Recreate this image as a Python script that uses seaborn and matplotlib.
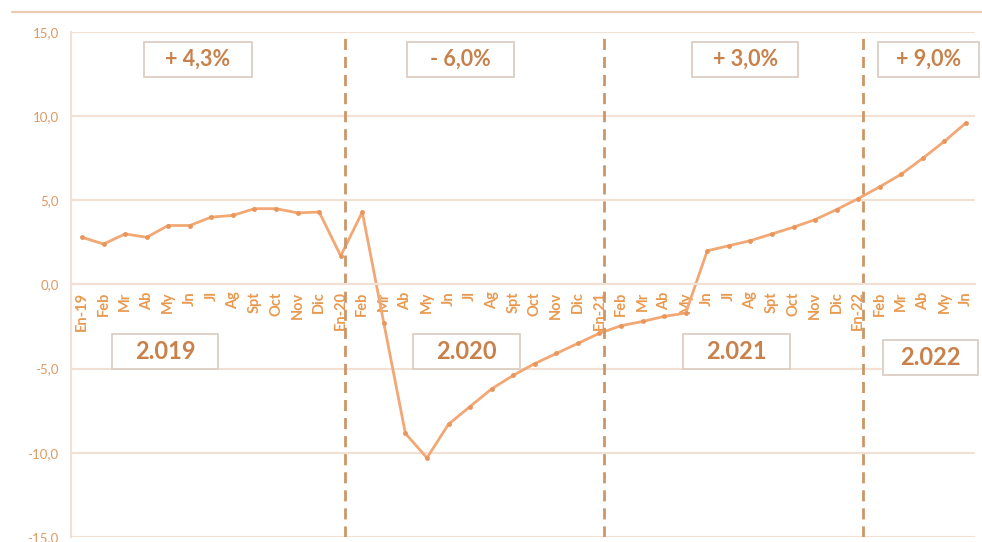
import matplotlib
matplotlib.use("Agg")
import matplotlib.pyplot as plt
import matplotlib.ticker as mticker
from matplotlib.lines import Line2D
from matplotlib.patches import Rectangle
import numpy as np
import pandas as pd
import seaborn as sns

# month labels on the x axis, Jan 2019 .. Jun 2022
month_labels = ['En-19', 'Feb', 'Mr', 'Ab', 'My', 'Jn', 'Jl', 'Ag', 'Spt', 'Oct', 'Nov', 'Dic',
                'En-20', 'Feb', 'Mr', 'Ab', 'My', 'Jn', 'Jl', 'Ag', 'Spt', 'Oct', 'Nov', 'Dic',
                'En-21', 'Feb', 'Mr', 'Ab', 'My', 'Jn', 'Jl', 'Ag', 'Spt', 'Oct', 'Nov', 'Dic',
                'En-22', 'Feb', 'Mr', 'Ab', 'My', 'Jn']

# monthly values
values = [2.8, 2.4, 3.0, 2.8, 3.5, 3.5, 4.0, 4.1, 4.5, 4.5, 4.25, 4.3,
          1.7, 4.3, -2.3, -8.85, -10.3, -8.3, -7.25, -6.2, -5.4, -4.7, -4.1, -3.5,
          -2.9, -2.45, -2.2, -1.9, -1.7, 2.0, 2.3, 2.6, 3.0, 3.4, 3.85, 4.45,
          5.1, 5.8, 6.55, 7.5, 8.5, 9.6]

# year separators (index of January) and annotations
year_starts = [12, 24, 36]
growth_text = ['+ 4,3%', '- 6,0%', '+ 3,0%', '+ 9,0%']
growth_x = [5.38, 17.56, 30.77, 39.26]
growth_w = [5.0, 4.97, 4.92, 4.64]
year_text = ['2.019', '2.020', '2.021', '2.022']
year_x = [3.85, 17.84, 30.37, 39.37]
year_w = [4.92, 4.97, 4.97, 4.41]
year_y = [-4.0, -4.0, -4.0, -4.33]

df = pd.DataFrame({'idx': np.arange(len(values)), 'value': values})

line_col = '#F2A874'
text_col = '#C8814B'
tick_col = '#E8994F'
grid_col = '#F2E0D2'
dash_col = '#CC9668'
box_col = '#DCCFC4'

sns.set_theme(style="white")
plt.rcParams['font.family'] = ['Lato', 'DejaVu Sans']

fig = plt.figure(figsize=(9.82, 5.42), dpi=100)
ax = fig.add_axes([0.0725, 0.0092, 0.92, 0.932])

sns.lineplot(data=df, x='idx', y='value', ax=ax, color=line_col, linewidth=2,
             marker='o', markersize=3.5, markeredgewidth=0, markerfacecolor='#E8965C')

# put the x axis at zero first, moving the spine resets the ticks
for s in ['top', 'right']:
    ax.spines[s].set_visible(False)
ax.spines['bottom'].set_position(('data', 0))
ax.spines['bottom'].set_color(grid_col)
ax.spines['bottom'].set_linewidth(1.5)
ax.spines['left'].set_color(grid_col)
ax.spines['left'].set_linewidth(1.5)

ax.set_ylim(-15, 15)
ax.set_xlim(-0.5, 41.4)
ax.set_yticks([-15, -10, -5, 0, 5, 10, 15])
ax.yaxis.set_major_formatter(mticker.FuncFormatter(lambda v, p: f'{v:.1f}'.replace('.', ',')))
ax.yaxis.grid(True, color=grid_col, linewidth=1.5)
ax.set_axisbelow(True)

ax.set_xticks(df['idx'])
ax.set_xticklabels(month_labels)
ax.tick_params(axis='x', length=3, color=grid_col, pad=2, labelrotation=90,
               labelsize=10.5, labelcolor=tick_col)
for lab in ax.get_xticklabels():
    lab.set_fontweight('bold')
ax.tick_params(axis='y', labelsize=9.5, labelcolor='#DC9A62', length=0, pad=9)
ax.set_xlabel('')
ax.set_ylabel('')

for xs in year_starts:
    ax.axvline(xs + 0.2, color=dash_col, linestyle=(0, (4, 2.5)), linewidth=2)


def boxed(x, y, w, h, txt, size):
    ax.add_patch(Rectangle((x - w / 2, y - h / 2), w, h, facecolor='white', edgecolor=box_col,
                           linewidth=1.3, zorder=4, clip_on=False))
    ax.text(x, y, txt, ha='center', va='center', fontsize=size, fontweight='bold',
            color=text_col, zorder=5)


for t, x, w in zip(growth_text, growth_x, growth_w):
    boxed(x, 13.37, w, 2.08, t, 15.5)

for t, x, y, w in zip(year_text, year_x, year_y, year_w):
    boxed(x, y, w, 2.08, t, 17)

# top frame line
fig.add_artist(Line2D([0.012, 1.0], [1 - 12 / 542, 1 - 12 / 542], color='#EBCBB0', linewidth=1.5))

fig.savefig('out.png', dpi=100)
